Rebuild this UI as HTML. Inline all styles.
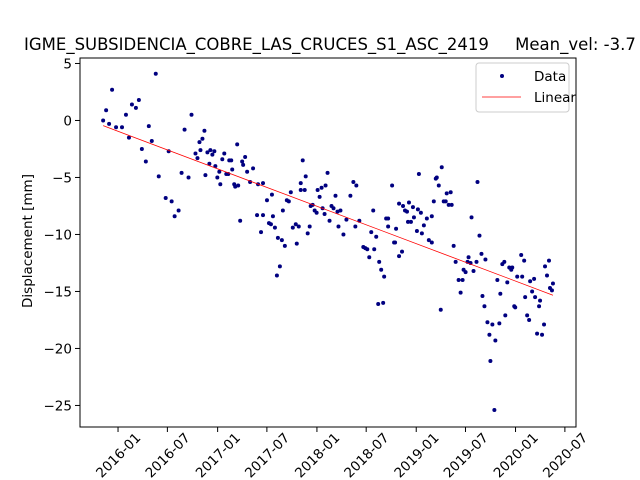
<!DOCTYPE html>
<html><head><meta charset="utf-8"><style>body{margin:0;background:#fff}svg{display:block}text{font-family:"DejaVu Sans","Liberation Sans",sans-serif}</style></head>
<body>
<svg id="chart" width="640" height="480" xmlns="http://www.w3.org/2000/svg">
<rect width="640" height="480" fill="#fff"/>
<text x="24" y="50" font-size="16.5" xml:space="preserve">IGME_SUBSIDENCIA_COBRE_LAS_CRUCES_S1_ASC_2419     Mean_vel: -3.7</text>
<text transform="translate(32,241) rotate(-90)" text-anchor="middle" font-size="13.5">Displacement [mm]</text>
<g id="plot"></g>
<rect x="80" y="58" width="496" height="369" fill="none" stroke="#000" stroke-width="1"/>
<g>
<rect x="476" y="63" width="93" height="49" rx="3" fill="#fff" fill-opacity="0.8" stroke="#ccc"/>
<circle cx="502" cy="76" r="2" fill="#000080"/>
<text x="534" y="81" font-size="13.5">Data</text>
<line x1="482" y1="97" x2="521" y2="97" stroke="red" stroke-width="0.8"/>
<text x="534" y="102" font-size="13.5">Linear</text>
</g>
</svg>
<script>
// time in years since 2016-01-01
const t=[-0.15,-0.12,-0.06,-0.09,-0.02,0.04,0.08,0.11,0.14,0.18,0.21,0.24,0.28,0.31,0.34,0.38,0.41,0.48,0.51,0.54,0.57,0.61,0.64,0.67,0.71,0.74,0.78,0.80,0.82,0.83,0.85,0.87,0.88,0.90,0.92,0.93,0.95,0.97,0.98,1.00,1.02,1.03,1.05,1.07,1.09,1.11,1.12,1.14,1.15,1.17,1.18,1.20,1.21,1.23,1.25,1.26,1.28,1.30,1.36,1.33,1.41,1.46,1.40,1.46,1.44,1.50,1.55,1.52,1.54,1.56,1.58,1.61,1.65,1.68,1.60,1.63,1.66,1.70,1.72,1.74,1.76,1.79,1.82,1.80,1.84,1.84,1.86,1.88,1.89,1.91,1.93,1.94,1.96,1.98,2.00,2.01,2.03,2.05,2.06,2.08,2.09,2.11,2.13,2.15,2.17,2.19,2.21,2.22,2.24,2.27,2.30,2.34,2.37,2.40,2.39,2.43,2.47,2.49,2.51,2.53,2.55,2.57,2.58,2.60,2.62,2.63,2.65,2.67,2.68,2.70,2.72,2.72,2.76,2.78,2.79,2.80,2.83,2.83,2.86,2.87,2.89,2.91,2.92,2.93,2.97,2.95,2.98,3.01,3.02,3.03,3.05,3.06,3.08,3.11,3.13,3.16,3.16,3.18,3.20,3.21,3.23,3.25,3.26,3.28,3.30,3.31,3.33,3.35,3.36,3.38,3.40,3.43,3.45,3.47,3.48,3.50,3.52,3.53,3.55,3.56,3.58,3.61,3.62,3.64,3.66,3.67,3.69,3.70,3.72,3.74,3.75,3.77,3.79,3.80,3.82,3.84,3.85,3.87,3.89,3.90,3.92,3.94,3.96,3.97,3.99,4.00,4.02,4.06,4.07,4.09,4.10,4.12,4.14,4.15,4.17,4.19,4.20,4.22,4.24,4.25,4.27,4.29,4.30,4.32,4.34,4.35,4.37,4.38];
const disp=[0.0,0.9,2.7,-0.3,-0.6,-0.6,0.5,-1.5,1.4,1.1,1.8,-2.5,-3.6,-0.5,-1.8,4.1,-4.9,-6.8,-2.7,-7.1,-8.4,-7.9,-4.6,-0.8,-5.0,0.5,-2.9,-3.3,-1.9,-2.6,-1.6,-0.9,-4.8,-2.8,-3.8,-2.6,-3.0,-2.7,-4.0,-5.0,-4.5,-5.6,-3.4,-2.9,-4.7,-4.7,-3.5,-3.5,-4.3,-5.6,-5.8,-2.1,-5.7,-8.8,-3.6,-3.9,-3.2,-4.5,-4.2,-5.4,-5.6,-5.5,-8.3,-8.3,-9.8,-7.0,-6.5,-9.0,-9.1,-8.4,-9.4,-10.3,-10.5,-11.0,-13.6,-12.8,-7.9,-7.0,-7.1,-6.3,-9.4,-9.1,-9.3,-10.8,-5.5,-6.1,-3.5,-6.1,-4.9,-9.9,-9.3,-7.5,-7.4,-7.9,-8.1,-6.1,-6.7,-5.9,-7.7,-8.2,-5.7,-4.6,-8.8,-7.5,-7.7,-6.6,-8.0,-9.3,-7.9,-10.0,-8.7,-6.6,-5.4,-5.7,-9.3,-8.8,-11.1,-11.2,-11.3,-12.0,-9.8,-7.9,-11.3,-10.2,-16.1,-12.4,-13.1,-16.0,-13.7,-8.6,-8.6,-9.3,-5.7,-10.7,-10.7,-9.5,-11.9,-7.3,-11.5,-7.5,-7.9,-8.0,-8.9,-7.2,-7.6,-8.9,-8.5,-9.7,-7.8,-4.7,-8.1,-9.9,-9.2,-8.6,-10.5,-10.7,-8.4,-7.1,-5.1,-5.0,-5.7,-16.6,-4.1,-7.1,-7.1,-6.4,-7.4,-6.3,-7.4,-11.0,-12.4,-14.0,-15.1,-14.0,-13.1,-13.3,-12.4,-12.0,-12.5,-8.5,-13.2,-12.4,-5.4,-10.1,-11.7,-15.4,-16.3,-12.2,-17.7,-18.8,-21.1,-17.9,-25.4,-19.3,-14.0,-17.8,-15.2,-12.6,-12.4,-17.1,-14.2,-12.9,-13.1,-12.9,-16.3,-16.4,-13.7,-11.8,-13.7,-12.3,-15.5,-17.1,-17.5,-14.1,-15.0,-13.9,-15.5,-18.7,-16.3,-15.8,-18.8,-17.9,-12.8,-13.6,-12.3,-14.7,-14.9,-14.3];
const xTickPos=[0,0.497,1.003,1.499,2.003,2.499,3.003,3.499,4.003,4.5];
const xTickLabels=["2016-01","2016-07","2017-01","2017-07","2018-01","2018-07","2019-01","2019-07","2020-01","2020-07"];
const yTicks=[5,0,-5,-10,-15,-20,-25];

const X0=80,X1=576,Y0=58,Y1=427,tMin=-0.383,tMax=4.612,vMax=5.48,vMin=-26.89;
const sx=v=>X0+(v-tMin)/(tMax-tMin)*(X1-X0);
const sy=v=>Y0+(vMax-v)/(vMax-vMin)*(Y1-Y0);
const NS="http://www.w3.org/2000/svg";
const g=document.getElementById('plot');
function mk(tag,attrs){const e=document.createElementNS(NS,tag);for(const k in attrs)e.setAttribute(k,attrs[k]);g.appendChild(e);return e;}
xTickPos.forEach((v,i)=>{
 const x=sx(v);
 const l=mk('line',{x1:x,y1:Y1,x2:x,y2:Y1+5,stroke:'#000'});
 
 
 const tx=mk('text',{x:x,y:0,'font-size':'13.5','text-anchor':'middle',transform:`translate(${x-x},0) rotate(-45 ${x} 455)`});
 tx.setAttribute('y',460);
 tx.textContent=xTickLabels[i];
 
 
});
yTicks.forEach(v=>{
 const y=sy(v);
 const l=mk('line',{x1:X0-5,y1:y,x2:X0,y2:y,stroke:'#000'});
 
 
 const tx=mk('text',{x:X0-8,y:y+5,'font-size':'13.5','text-anchor':'end'});
 tx.textContent=v<0?'\u2212'+Math.abs(v):String(v);
 
 
});
t.forEach((v,i)=>{
 const c=mk('circle',{cx:sx(v),cy:sy(disp[i]),r:2,fill:'#000080'});
 
 
});
// linear fit
const n=t.length;let mt=0,md=0;for(let i=0;i<n;i++){mt+=t[i];md+=disp[i];}mt/=n;md/=n;
let sxy=0,sxx=0;for(let i=0;i<n;i++){sxy+=(t[i]-mt)*(disp[i]-md);sxx+=(t[i]-mt)**2;}
const b=sxy/sxx,a=md-b*mt;const ta=Math.min(...t),tb=Math.max(...t);
const ln=mk('line',{x1:sx(ta),y1:sy(a+b*ta),x2:sx(tb),y2:sy(a+b*tb),stroke:'red','stroke-width':0.8});


</script>
</body></html>
